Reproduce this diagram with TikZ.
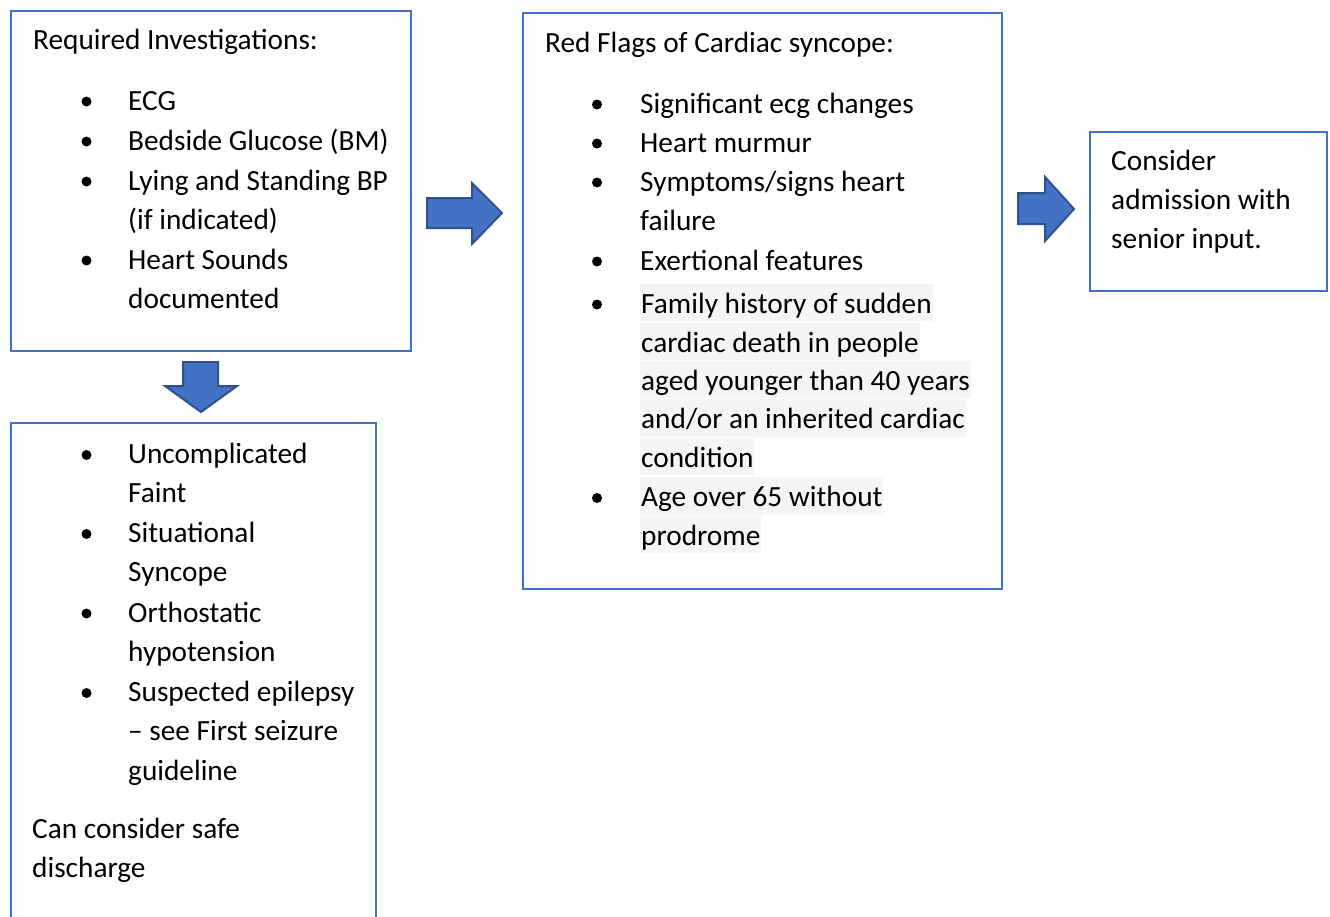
\documentclass[tikz,border=0pt]{standalone}
\usepackage{fontspec}
\setmainfont{Carlito}

\definecolor{boxblue}{HTML}{4472C4}
\definecolor{arrowline}{HTML}{2F528F}
\definecolor{hlgray}{HTML}{F5F5F5}

\tikzset{
    panel/.style={draw=boxblue, line width=2.3pt, anchor=north west, inner sep=0pt, outer sep=0pt},
    txt/.style={anchor=base west, inner sep=0pt, align=left, font=\fontsize{29.3}{39.3}\selectfont},
    hl/.style={txt, fill=hlgray, inner xsep=1pt, text height=29.5pt, text depth=8pt},
    blockarrow/.style={fill=boxblue, draw=arrowline, line width=2pt, line join=miter},
}

\begin{document}
\begin{tikzpicture}[x=1pt, y=-1pt]
    \useasboundingbox (0,0) rectangle (1330,916);

    % ==========================================
    % Boxes
    % ==========================================
    \node[panel, minimum width=400, minimum height=340] (invest) at (11,11) {};
    \node[panel, minimum width=479, minimum height=576] (flags) at (523,13) {};
    \node[panel, minimum width=237, minimum height=159] (admit) at (1090,132) {};
    \node[panel, minimum width=365, minimum height=540] (discharge) at (11,423) {};

    % ==========================================
    % Required investigations (base = last line)
    % ==========================================
    \node[txt] (invtitle) at (33,49) {Required Investigations:};
    \node[txt] (ecg) at (128,110) {ECG};
    \node[txt] (glucose) at (128,150) {Bedside Glucose (BM)};
    \node[txt] (bp) at (128,229.3) {Lying and Standing BP\\(if indicated)};
    \node[txt] (sounds) at (128,308.3) {Heart Sounds\\documented};
    \foreach \y in {101.5,141.5,181.5,260.5}
        \fill (86.5,\y) circle (5pt);

    % ==========================================
    % Red flags
    % ==========================================
    \node[txt] (flagtitle) at (545,52) {Red Flags of Cardiac syncope:};
    \node[txt] (ecgchg) at (640,113) {Significant ecg changes};
    \node[txt] (murmur) at (640,152) {Heart murmur};
    \node[txt] (failure) at (640,230.3) {Symptoms/signs heart\\failure};
    \node[txt] (exert) at (640,270) {Exertional features};
    \node[hl] (fam1) at (640,313) {Family history of sudden};
    \node[hl] (fam2) at (640,352) {cardiac death in people};
    \node[hl] (fam3) at (640,390) {aged younger than 40 years};
    \node[hl] (fam4) at (640,428.5) {and/or an inherited cardiac};
    \node[hl] (fam5) at (640,467) {condition};
    \node[hl] (age1) at (640,506.5) {Age over 65 without};
    \node[hl] (age2) at (640,545) {prodrome};
    \foreach \y in {104.5,143.5,182.5,261.5,304.5,498}
        \fill (597,\y) circle (5pt);

    % ==========================================
    % Admission
    % ==========================================
    \node[txt] (admittext) at (1111,248.6) {Consider\\admission with\\senior input.};

    % ==========================================
    % Safe discharge
    % ==========================================
    \node[txt] (faint) at (128,502.8) {Uncomplicated\\Faint};
    \node[txt] (situational) at (128,581.8) {Situational\\Syncope};
    \node[txt] (ortho) at (128,661.3) {Orthostatic\\hypotension};
    \node[txt] (epilepsy) at (128,780.1) {Suspected epilepsy\\– see First seizure\\guideline};
    \node[txt] (safe) at (32,877.3) {Can consider safe\\discharge};
    \foreach \y in {455,534,613.5,693}
        \fill (86.5,\y) circle (5pt);

    % ==========================================
    % Block arrows
    % ==========================================
    \draw[blockarrow] (427,198) -- (472,198) -- (472,183) -- (502,213)
        -- (472,244) -- (472,228) -- (427,228) -- cycle;
    \draw[blockarrow] (183,362) -- (218,362) -- (218,386) -- (237,386)
        -- (201,412) -- (165,386) -- (183,386) -- cycle;
    \draw[blockarrow] (1018,193) -- (1045,193) -- (1045,177) -- (1074,209)
        -- (1045,241) -- (1045,224) -- (1018,224) -- cycle;
\end{tikzpicture}
\end{document}
